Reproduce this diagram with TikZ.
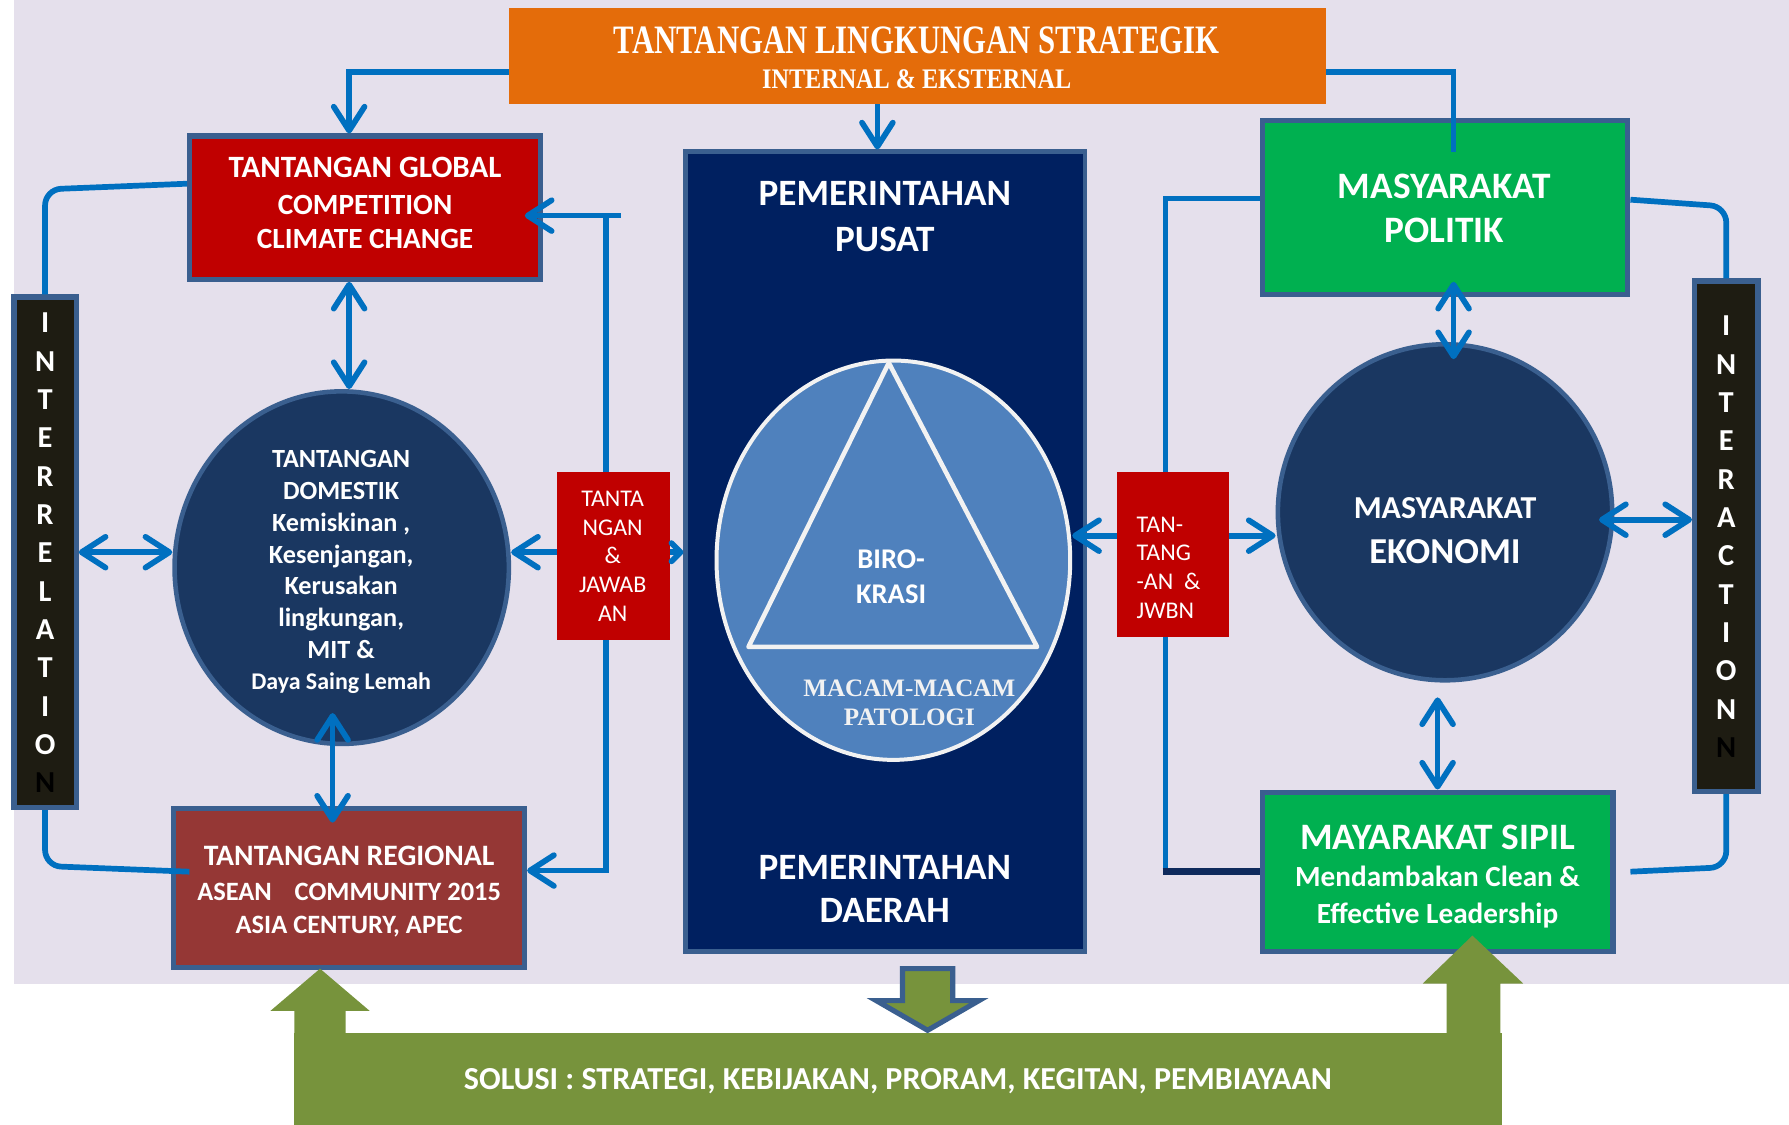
\documentclass[tikz,border=0pt]{standalone}
\usepackage{fontspec}
\setmainfont{Carlito}
\newfontfamily\patofont{Liberation Serif}
\newfontfamily\headfont{Liberation Serif}
\usetikzlibrary{arrows.meta,shapes.geometric}

\definecolor{bgL}{HTML}{E5E0EC}
\definecolor{orangeT}{HTML}{E46C0A}
\definecolor{redT}{HTML}{C00000}
\definecolor{navyP}{HTML}{002060}
\definecolor{ellB}{HTML}{4F81BD}
\definecolor{discD}{HTML}{1A3761}
\definecolor{edgeB}{HTML}{3A5F8F}
\definecolor{greenM}{HTML}{00B050}
\definecolor{regR}{HTML}{953735}
\definecolor{barK}{HTML}{1E1C12}
\definecolor{linkB}{HTML}{0070C0}
\definecolor{oliveG}{HTML}{77933C}
\definecolor{ringW}{HTML}{F2F2F2}
\definecolor{navyLine}{HTML}{0E2A5C}

\newcommand\fsz[2]{\fontsize{#1pt}{#2pt}\selectfont}

\tikzset{
  link/.style={draw=linkB, line width=5pt},
  >={Straight Barb[length=21pt,width=27pt,round]},
  panel/.style={draw=edgeB, line width=4.5pt, inner sep=0pt},
  disc/.style={ellipse, draw=edgeB, line width=4pt, fill=discD, inner sep=0pt},
  plain/.style={inner sep=0pt},
  txt/.style={text=white, align=center, inner sep=0pt},
  curvedlink/.style={link, rounded corners=14pt},
}

\begin{document}
\begin{tikzpicture}[x=1pt,y=-1pt]
\useasboundingbox (0,0) rectangle (1568,986);
\fill[white] (0,0) rectangle (1568,986);
\fill[bgL] (12,0) rectangle (1568,862);

% ---- blocks ----
\node[plain, fill=orangeT, minimum width=716pt, minimum height=84pt] (env) at (804,49) {};
\node[panel, fill=redT, minimum width=307.5pt, minimum height=125.5pt] (global) at (320,182) {};
\node[panel, fill=navyP, line width=4pt, minimum width=350pt, minimum height=701pt] (pusat) at (776,483.5) {};
\node[ellipse, draw=ringW, line width=3.5pt, fill=ellB, inner sep=0pt,
      minimum width=310pt, minimum height=350pt] (birokrasi) at (783,491) {};
\node[disc, minimum width=293pt, minimum height=309pt] (domestik) at (299.5,497.5) {};
\node[panel, fill=regR, minimum width=307.5pt, minimum height=139.5pt] (regional) at (306,778) {};
\node[plain, fill=redT, minimum width=99pt, minimum height=147pt] (tjL) at (537.5,487.5) {};
\node[plain, fill=redT, minimum width=98pt, minimum height=144pt] (tjR) at (1028,486) {};
\node[panel, fill=greenM, minimum width=320.5pt, minimum height=152.5pt] (politik) at (1266.5,181.5) {};
\node[disc, minimum width=293pt, minimum height=294.5pt] (ekonomi) at (1266.5,449) {};
\node[panel, fill=greenM, minimum width=307.5pt, minimum height=139.5pt] (sipil) at (1260,764) {};
\node[panel, fill=barK, minimum width=54.5pt, minimum height=447.5pt] (lbar) at (39.5,484) {};
\node[panel, fill=barK, minimum width=55.5pt, minimum height=447.5pt] (rbar) at (1513,470) {};

% triangle of the bureaucracy
\draw[ringW, line width=4pt, line join=round] (779,318) -- (656,567) -- (909,567) -- cycle;

% ---- solution band with its block arrows ----
\node[plain, fill=oliveG, minimum width=1058pt, minimum height=81pt, text depth=0pt,
      text=white, font=\fsz{28.1}{30}\bfseries] (solusi) at (787,945.5)
      {SOLUSI : STRATEGI, KEBIJAKAN, PRORAM, KEGITAN, PEMBIAYAAN};
\fill[oliveG] (258,906) -- (258,886) -- (237,886) -- (280.5,849) -- (324,886)
      -- (303,886) -- (303,906) -- cycle;
\fill[oliveG] (1268,906) -- (1268,862) -- (1247,862) -- (1290.5,820) -- (1335,862)
      -- (1315,862) -- (1315,906) -- cycle;
\draw[edgeB, fill=oliveG, line width=4.5pt, line join=miter]
      (791,849) -- (835,849) -- (835,877) -- (858,877) -- (813,903) -- (768,877)
      -- (791,877) -- cycle;

% ---- connectors ----
\draw[link,->] ([yshift=-14pt]env.west) -| ([xshift=-14pt]global.north);
\draw[link,->] ([xshift=-35pt]env.south) -- ([xshift=-35pt]env.south |- pusat.north);
\draw[link] ([yshift=-14pt]env.east) -| ([xshift=7.5pt,yshift=-30pt]politik.north);

\draw[link,<->] ([xshift=-14pt]global.south) -- ([xshift=-14pt]global.south |- domestik.north);
\draw[link,<->] ([xshift=-8pt,yshift=29pt]domestik.south) -- ([xshift=-14.5pt,yshift=-15pt]regional.north);
\draw[link,<->] (lbar.east) -- (lbar.east -| domestik.west);

\coordinate (gIn) at ([xshift=-16pt,yshift=-7pt]global.east);
\draw[link] ([xshift=-6.5pt]tjL.north) |- ([xshift=7pt]tjL.north |- gIn);
\draw[link,->] ([xshift=-6.5pt]tjL.north |- gIn) -- (gIn);
\draw[link,->] ([xshift=-6.5pt]tjL.south) |- ([yshift=15pt]regional.east);
\draw[link,->] ([yshift=3.5pt]tjL.west) -- ([yshift=3.5pt]tjL.west -| domestik.east);
\draw[link,-{Straight Barb[length=8pt,width=16pt,round]}] ([yshift=3.5pt]tjL.east) -- ([yshift=3.5pt]tjL.east -| pusat.west);

\draw[link,->] ([yshift=16.5pt]tjR.west) -- ([yshift=16.5pt]tjR.west -| birokrasi.east);
\draw[link,->] ([yshift=16.5pt]tjR.east) -- ([yshift=16.5pt]tjR.east -| ekonomi.west);
\draw[link] ([xshift=-6.5pt]tjR.north) |- ([yshift=7.5pt]politik.west);
\draw[link] ([xshift=-6.5pt]tjR.south) -- ([xshift=-6.5pt]tjR.south |- sipil.west);
\draw[navyLine, line width=6pt] ([xshift=-9pt]tjR.south |- sipil.west) -- (sipil.west);

\draw[link,<->] ([xshift=7.5pt,yshift=13pt]politik.south) -- ([xshift=7.5pt,yshift=-15pt]politik.south |- ekonomi.north);
\draw[link,<->] ([yshift=-13pt]sipil.north |- ekonomi.south) -- (sipil.north);
\draw[link,<->] ([xshift=-13.5pt,yshift=-6.5pt]ekonomi.east) -- ([yshift=-6.5pt]ekonomi.east -| rbar.west);

\draw[curvedlink] ([yshift=21pt]global.west) -- (39.5,166) -- (lbar.north);
\draw[curvedlink] ([xshift=16pt,yshift=14pt]regional.west) -- (39.5,759) -- (lbar.south);
\draw[curvedlink] ([yshift=6.5pt]politik.east) -- (1513,181) -- (rbar.north);
\draw[curvedlink] ([xshift=13pt]sipil.east) -- (1513,760) -- (rbar.south);

% ---- texts ----
\node[txt] (envT) at (803.5,35)
  {\resizebox{531pt}{23.4pt}{\headfont\bfseries TANTANGAN LINGKUNGAN STRATEGIK}};
\node[txt] (envS) at (803.5,69)
  {\resizebox{271pt}{16.5pt}{\headfont\bfseries INTERNAL \& EKSTERNAL}};
\node[txt, font=\fsz{25.7}{30}\bfseries] (globalT) at (320,178)
  {{\fsz{27.2}{30}TANTANGAN GLOBAL}\\[2pt]COMPETITION\\CLIMATE CHANGE};
\node[txt, font=\fsz{32.6}{40}\bfseries] (pusatT) at (775.5,190) {PEMERINTAHAN\\PUSAT};
\node[txt, font=\fsz{32.6}{38}\bfseries] (daerahT) at (775.5,779) {PEMERINTAHAN\\DAERAH};
\node[txt, font=\fsz{25}{31}\bfseries] (biroT) at (781,505.5) {BIRO-\\KRASI};
\node[txt, text=ringW, font=\patofont\fsz{22}{25}\bfseries] (patoT) at (797,616) {MACAM-MACAM\\PATOLOGI};
\node[txt, font=\fsz{23}{28}\bfseries] (domT) at (299,501)
  {TANTANGAN\\DOMESTIK\\Kemiskinan ,\\Kesenjangan,\\Kerusakan\\lingkungan,\\MIT \&\\[-1.4pt]{\fsz{21}{28}Daya Saing Lemah}};
\node[txt, font=\fsz{23.2}{28.5}\bfseries] (regT) at (306,781.5)
  {{\fsz{26}{28.5}TANTANGAN REGIONAL}\\[2pt]ASEAN\hspace{20pt}COMMUNITY 2015\\ASIA CENTURY, APEC};
\node[txt, font=\fsz{32.7}{39}\bfseries] (polT) at (1266,182.5) {MASYARAKAT\\POLITIK};
\node[txt, font=\fsz{28}{39.6}\bfseries] (ekoT) at (1266.5,465) {MASYARAKAT\\{\fsz{32}{39.6}EKONOMI}};
\node[txt, font=\fsz{25.6}{32}\bfseries] (sipT) at (1260,768)
  {{\fsz{32.7}{32}MAYARAKAT SIPIL}\\[1.1pt]Mendambakan Clean \&\\Effective Leadership};
\node[txt, font=\fsz{21}{25.3}] (tjLT) at (537,487.5) {TANTA\\NGAN\\\&\\JAWAB\\AN};
\node[txt, font=\fsz{21}{25}, align=left, anchor=west] (tjRT) at (996,497.5) {TAN-\\TANG\\-AN\ \ \&\\JWBN};
\node[txt, font=\fsz{26.7}{33.6}\bfseries] (lbarT) at (39.5,484.5)
  {I\\N\\T\\E\\R\\R\\E\\L\\A\\T\\I\\O\\\textcolor{black}{N}};
\node[txt, font=\fsz{26.7}{33.6}\bfseries] (rbarT) at (1513,470.5)
  {I\\N\\T\\E\\R\\A\\C\\T\\I\\O\\N\\\textcolor{black}{N}};
\end{tikzpicture}
\end{document}
